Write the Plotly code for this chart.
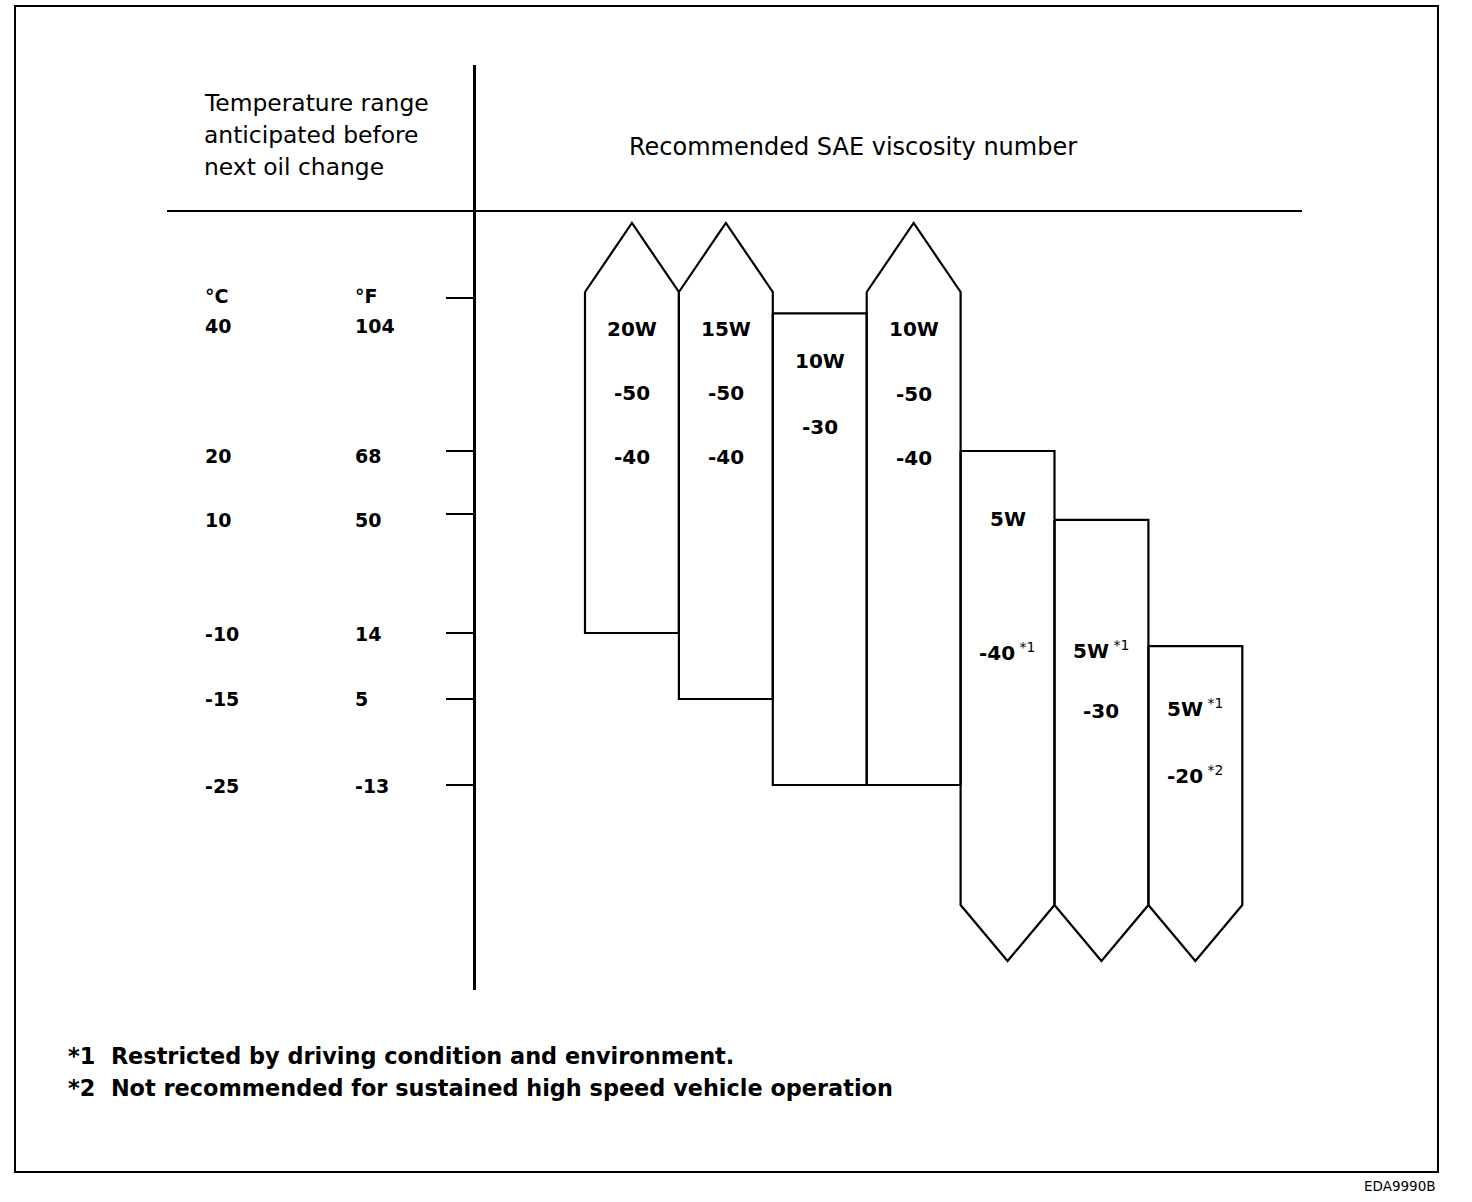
import numpy as np
import plotly.graph_objects as go

# ---------------- data ----------------
temp_c = [40, 20, 10, -10, -15, -25]          # scale ticks, deg C
temp_f = [104, 68, 50, 14, 5, -13]            # same ticks, deg F

grade_w = ["20W", "15W", "10W", "10W", "5W", "5W", "5W"]
grade_w_note = ["", "", "", "", "", "*1", "*1"]
grade_hot = [["-50", "-40"], ["-50", "-40"], ["-30"], ["-50", "-40"], ["-40"], ["-30"], ["-20"]]
grade_hot_note = [["", ""], ["", ""], [""], ["", ""], ["*1"], [""], ["*2"]]

# usable temperature range of each grade (None = open-ended, drawn as arrow)
temp_max = [None, None, 38, None, 20, 9, -11]
temp_min = [-10, -15, -25, -25, None, None, None]

header_left = ["Temperature range", "anticipated before", "next oil change"]
header_right = "Recommended SAE viscosity number"
footnotes = ["*1  Restricted by driving condition and environment.",
             "*2  Not recommended for sustained high speed vehicle operation"]
code_label = "EDA9990B"

# ---------------- layout constants ----------------
W, H = 1472, 1202
AX_TOP, AX_BOT = 65, 990            # vertical axis extent (px)
TICK_PX = [298, 451, 514, 633, 699, 785]   # piecewise temperature scale
TICK_LABEL_DY = [28, 5, 6, 1, 0, 1]
COL_X0, COL_W = 585, 93.9
UP_SHOULDER, UP_TIP = 292, 223
DN_SHOULDER, DN_TIP = 905, 961
LABEL_Y = [[329, 393, 457], [329, 393, 457], [361, 427], [329, 394, 458],
           [519, 652], [650, 711], [708, 775]]
FONT = "DejaVu Sans"


def ty(t):
    return float(np.interp(-t, [-c for c in temp_c], TICK_PX))


def px(x):
    return x / W


def py(y):
    return 1 - y / H


fig = go.Figure()

for i in range(len(grade_w)):
    xl, xm, xr = i, i + 0.5, i + 1
    if temp_max[i] is None:
        top_x = [xl, xm, xr]
        top_y = [UP_SHOULDER, UP_TIP, UP_SHOULDER]
    else:
        top_x = [xl, xr]
        top_y = [ty(temp_max[i])] * 2
    if temp_min[i] is None:
        bot_x = [xr, xm, xl]
        bot_y = [DN_SHOULDER, DN_TIP, DN_SHOULDER]
    else:
        bot_x = [xr, xl]
        bot_y = [ty(temp_min[i])] * 2
    xs = top_x + bot_x + [top_x[0]]
    ys = top_y + bot_y + [top_y[0]]
    fig.add_trace(go.Scatter(x=xs, y=ys, mode="lines",
                             line=dict(color="black", width=2.2),
                             hoverinfo="skip", showlegend=False))

annotations = []


def add_text(text, x, y, size, bold=False, xanchor="left", xref="paper", yref="paper"):
    annotations.append(dict(
        text=f"<b>{text}</b>" if bold else text,
        x=x, y=y, xref=xref, yref=yref, xanchor=xanchor, yanchor="middle",
        showarrow=False, font=dict(family=FONT, size=size, color="black")))


# column labels
for i in range(len(grade_w)):
    lines = [(grade_w[i], grade_w_note[i])] + list(zip(grade_hot[i], grade_hot_note[i]))
    for (txt, note), yy in zip(lines, LABEL_Y[i]):
        s = f"<b>{txt}</b>"
        if note:
            s += f"<sup> {note}</sup>"
        annotations.append(dict(text=s, x=i + 0.5, y=yy, xref="x", yref="y",
                                xanchor="center", yanchor="middle", showarrow=False,
                                font=dict(family=FONT, size=20, color="black")))

# headers
for k, line in enumerate(header_left):
    add_text(line, px(202), py(103 + 32 * k), 23.4)
add_text(header_right, px(627), py(147), 24)

# temperature scale labels
add_text("°C", px(203), py(296), 19, bold=True)
add_text("°F", px(353), py(296), 19, bold=True)
for k, (c, f) in enumerate(zip(temp_c, temp_f)):
    yy = ty(c) + TICK_LABEL_DY[k]
    annotations.append(dict(text=f"<b>{c}</b>", x=px(203), y=yy, xref="paper", yref="y",
                            xanchor="left", yanchor="middle", showarrow=False,
                            font=dict(family=FONT, size=19, color="black")))
    annotations.append(dict(text=f"<b>{f}</b>", x=px(353), y=yy, xref="paper", yref="y",
                            xanchor="left", yanchor="middle", showarrow=False,
                            font=dict(family=FONT, size=19, color="black")))

# footnotes
for k, line in enumerate(footnotes):
    add_text(line.replace("  ", "&nbsp;&nbsp;"), px(66), py(1056 + 32 * k), 22.4, bold=True)
add_text(code_label, px(1438), py(1186), 13.5, xanchor="right")

shapes = [
    dict(type="rect", xref="paper", yref="paper", x0=px(15), x1=px(1438), y0=py(6), y1=py(1172),
         line=dict(color="black", width=2)),
    dict(type="line", xref="paper", yref="paper", x0=px(167), x1=px(1302), y0=py(211), y1=py(211),
         line=dict(color="black", width=2.2)),
]

fig.update_layout(
    width=W, height=H, margin=dict(l=0, r=0, t=0, b=0),
    paper_bgcolor="white", plot_bgcolor="white",
    xaxis=dict(range=[-COL_X0 / COL_W, (W - COL_X0) / COL_W], domain=[0, 1], visible=False,
               fixedrange=True),
    yaxis=dict(range=[AX_BOT, AX_TOP], domain=[1 - AX_BOT / H, 1 - AX_TOP / H],
               anchor="free", position=474 / W, showline=True, linecolor="black", linewidth=2.8,
               ticks="outside", ticklen=27, tickwidth=2, tickcolor="black",
               tickvals=[ty(c) for c in temp_c], showticklabels=False,
               showgrid=False, zeroline=False, fixedrange=True),
    annotations=annotations, shapes=shapes,
)

fig.write_html("out.html", config={"displayModeBar": False},
               post_script="document.body.style.margin='0';document.body.style.overflow='hidden';")
